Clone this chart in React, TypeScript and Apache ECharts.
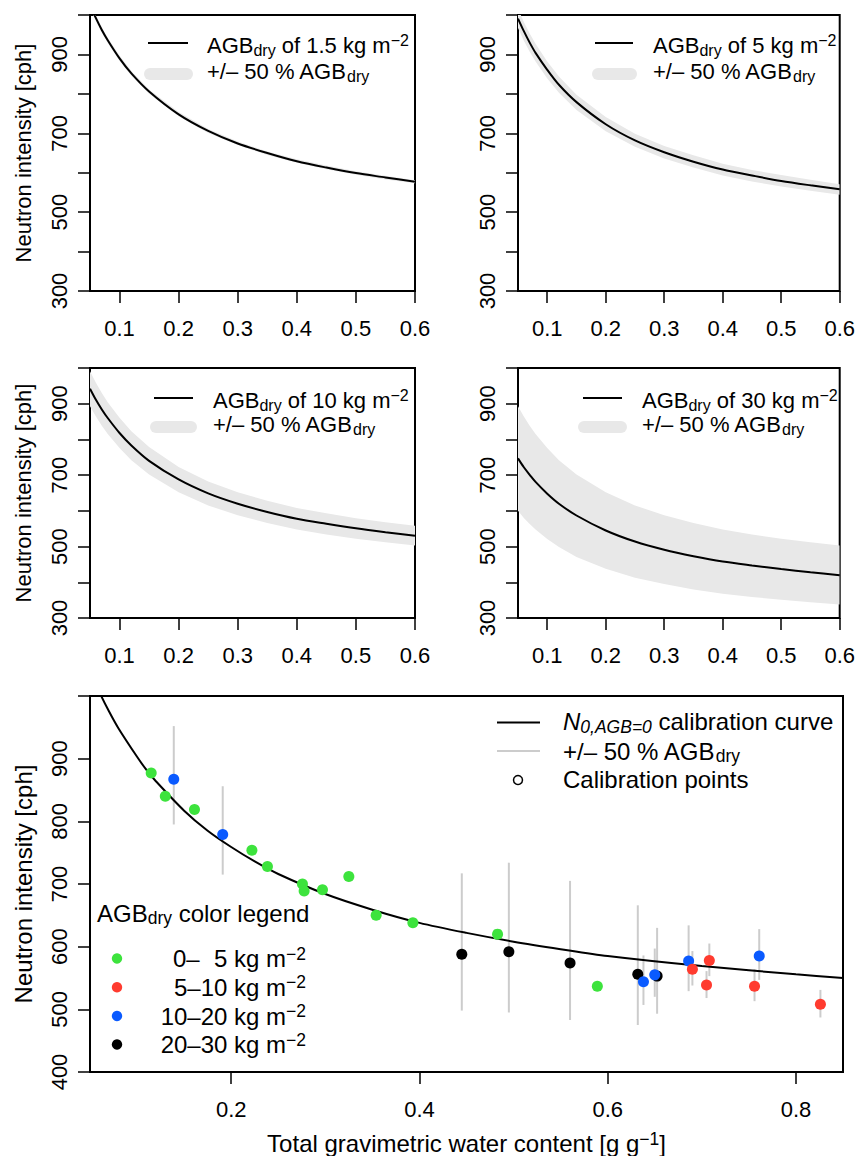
import React, { useEffect, useRef } from 'react';
import * as echarts from 'echarts';

const FONT = "'Liberation Sans', Arial, Helvetica, sans-serif";

// ---- top panels: water content grid and curves (cph) ----
const thetaTop = [0.05, 0.06, 0.07, 0.08, 0.1, 0.12, 0.15, 0.2, 0.25, 0.3, 0.35, 0.4, 0.45, 0.5, 0.55, 0.6];

const agb1_5 = [1025, 992, 962, 936, 890, 852, 806, 748, 706, 674, 650, 629, 613, 599, 588, 577];
const agb1_5Hi = [1033, 999, 969, 942, 897, 858, 811, 754, 711, 679, 654, 634, 618, 604, 592, 581];
const agb1_5Lo = [1018, 985, 955, 929, 884, 846, 800, 743, 701, 670, 645, 625, 609, 595, 583, 573];

const agb5 = [991, 959, 930, 904, 861, 823, 779, 723, 682, 652, 628, 608, 593, 579, 568, 558];
const agb5Hi = [1016, 982, 953, 927, 882, 844, 798, 741, 699, 668, 644, 623, 607, 594, 582, 571];
const agb5Lo = [967, 935, 907, 882, 839, 803, 759, 705, 666, 636, 613, 593, 578, 565, 554, 544];

const agb10 = [942, 911, 884, 860, 818, 783, 740, 688, 649, 620, 597, 578, 564, 551, 540, 530];
const agb10Hi = [991, 959, 930, 904, 861, 823, 779, 723, 682, 652, 628, 608, 593, 579, 568, 558];
const agb10Lo = [893, 864, 838, 815, 776, 742, 702, 652, 615, 588, 566, 548, 534, 522, 512, 503];

const agb30 = [747, 722, 701, 681, 648, 620, 587, 545, 514, 491, 473, 458, 447, 437, 428, 420];
const agb30Hi = [893, 864, 838, 815, 776, 742, 702, 652, 615, 588, 566, 548, 534, 522, 512, 503];
const agb30Lo = [600, 580, 563, 548, 521, 499, 471, 438, 413, 395, 380, 368, 359, 351, 344, 338];

const topLabels = ['1.5', '5', '10', '30'];

// ---- bottom panel ----
const thetaCal = [0.05, 0.06, 0.07, 0.08, 0.1, 0.11, 0.12, 0.15, 0.175, 0.2, 0.225, 0.25, 0.3, 0.35, 0.4, 0.45, 0.5, 0.55, 0.6, 0.7, 0.8, 0.85];
const calCurve = [1040, 1006, 976, 949, 903, 882, 864, 817, 785, 759, 736, 716, 684, 659, 638, 622, 608, 596, 585, 569, 556, 550];

const greenPts = [
  [0.115, 877], [0.130, 840], [0.161, 819], [0.222, 754], [0.2385, 728], [0.2757, 700],
  [0.2775, 689], [0.297, 691], [0.325, 712], [0.354, 650], [0.393, 638], [0.483, 620], [0.589, 537],
];
const redPts = [[0.690, 564], [0.705, 539], [0.708, 578], [0.756, 537], [0.826, 508]];
const bluePts = [[0.139, 867], [0.191, 779], [0.638, 544], [0.650, 555], [0.686, 577], [0.761, 585]];
const blackPts = [[0.445, 588], [0.495, 592], [0.560, 574], [0.632, 556], [0.6525, 553]];

// error bars: [theta, low, high]
const errBars = [
  [0.139, 795, 952], [0.191, 715, 856], [0.445, 498, 717], [0.495, 495, 734], [0.560, 483, 705],
  [0.632, 475, 666], [0.638, 507, 586], [0.650, 520, 597], [0.6525, 493, 630], [0.686, 529, 634],
  [0.690, 538, 593], [0.705, 518, 561], [0.708, 553, 605], [0.756, 513, 564], [0.761, 547, 628],
  [0.826, 487, 531],
];

const topXTicks = [0.1, 0.2, 0.3, 0.4, 0.5, 0.6];
const topYTicks = [300, 400, 500, 600, 700, 800, 900, 1000];
const topYLabels = [300, 500, 700, 900];
const botXTicks = [0.2, 0.4, 0.6, 0.8];
const botYTicks = [400, 500, 600, 700, 800, 900, 1000];
const botYLabels = [400, 500, 600, 700, 800, 900];

const GREEN = '#3de33d';
const RED = '#ff3b2f';
const BLUE = '#0a5aff';
const BLACK = '#000000';
const BAND = '#e8e8e8';
const BAR = '#cccccc';

// rich styles for the small panels (22px) and the large panel (24px)
const RICH: any = {
  a: { fontSize: 22, fontFamily: FONT, lineHeight: 26, verticalAlign: 'middle', fill: '#000' },
  s: { fontSize: 16, fontFamily: FONT, lineHeight: 17, verticalAlign: 'bottom', fill: '#000' },
  p: { fontSize: 16, fontFamily: FONT, lineHeight: 6, verticalAlign: 'top', fill: '#000' },
};
const RICHB: any = {
  a: { fontSize: 24, fontFamily: FONT, lineHeight: 28, verticalAlign: 'middle', fill: '#000' },
  s: { fontSize: 17.5, fontFamily: FONT, lineHeight: 18, verticalAlign: 'bottom', fill: '#000' },
  p: { fontSize: 17.5, fontFamily: FONT, lineHeight: 6.4, verticalAlign: 'top', fill: '#000' },
  i: { fontSize: 24, fontFamily: FONT, fontStyle: 'italic', lineHeight: 28, verticalAlign: 'middle', fill: '#000' },
  is: { fontSize: 17.5, fontFamily: FONT, fontStyle: 'italic', lineHeight: 18, verticalAlign: 'bottom', fill: '#000' },
};

function pairs(xs: number[], ys: number[]) {
  return xs.map((x, i) => [x, ys[i]]);
}

function xAx(gi: number, min: number, max: number, ticks: number[]) {
  return {
    type: 'value', gridIndex: gi, min, max,
    axisLine: { show: false, onZero: false },
    splitLine: { show: false },
    axisTick: { show: true, inside: false, length: 12, customValues: ticks, lineStyle: { color: '#000', width: 1.5 } },
    axisLabel: { customValues: ticks, fontSize: 22, fontFamily: FONT, color: '#000', margin: 26, showMinLabel: true, showMaxLabel: true },
  };
}
function yAx(gi: number, min: number, max: number, ticks: number[], labels: number[], name: string, nameSize: number, nameGap: number) {
  return {
    type: 'value', gridIndex: gi, min, max,
    axisLine: { show: false, onZero: false },
    splitLine: { show: false },
    axisTick: { show: true, inside: false, length: 12, customValues: ticks, lineStyle: { color: '#000', width: 1.5 } },
    axisLabel: { customValues: labels, rotate: 90, fontSize: 22, fontFamily: FONT, color: '#000', margin: 20, showMinLabel: true, showMaxLabel: true },
    name,
    nameLocation: 'middle',
    nameGap,
    nameRotate: 90,
    nameTextStyle: { fontSize: nameSize, fontFamily: FONT, color: '#000' },
  };
}

function txt(x: number, y: number, text: string, align: string = 'left', rich: any = RICH) {
  return {
    type: 'text', x, y, z: 100,
    style: { text, rich, align, textAlign: align, verticalAlign: 'middle', textVerticalAlign: 'middle', fontFamily: FONT, fontSize: 22 },
  };
}
function ln(x1: number, y1: number, x2: number, y2: number, color: string, width: number, cap: string = 'butt') {
  return { type: 'line', z: 100, shape: { x1, y1, x2, y2 }, style: { stroke: color, lineWidth: width, lineCap: cap } };
}
function dot(cx: number, cy: number, r: number, color: string) {
  return { type: 'circle', z: 100, shape: { cx, cy, r }, style: { fill: color } };
}

export default function App() {
  const ref = useRef<HTMLDivElement>(null);
  useEffect(() => {
    if (!ref.current) return;
    const chart = echarts.init(ref.current, undefined, { renderer: 'svg' });

    const grids = [
      { left: 90, top: 15, width: 325, height: 276 },
      { left: 518, top: 15, width: 325, height: 276 },
      { left: 90, top: 368, width: 325, height: 250 },
      { left: 518, top: 368, width: 325, height: 250 },
      { left: 90, top: 696, width: 753, height: 376 },
    ].map((g) => ({ ...g, show: true, borderColor: '#000', borderWidth: 2, backgroundColor: 'transparent', containLabel: false }));

    const xAxis = [0, 1, 2, 3].map((i) => xAx(i, 0.05, 0.6, topXTicks));
    xAxis.push(xAx(4, 0.05, 0.85, botXTicks));
    const yAxis = [0, 1, 2, 3].map((i) =>
      yAx(i, 300, 1000, topYTicks, topYLabels, i % 2 === 0 ? 'Neutron intensity [cph]' : '', 22, 56)
    );
    yAxis.push(yAx(4, 400, 1000, botYTicks, botYLabels, 'Neutron intensity [cph]', 24, 55));

    const curves = [
      [agb1_5, agb1_5Hi, agb1_5Lo],
      [agb5, agb5Hi, agb5Lo],
      [agb10, agb10Hi, agb10Lo],
      [agb30, agb30Hi, agb30Lo],
    ];

    const series: any[] = [];
    curves.forEach(([mid, hi, lo], i) => {
      series.push({
        type: 'custom', xAxisIndex: i, yAxisIndex: i, data: [[0.3, 600]], clip: true, z: 1, silent: true,
        renderItem: (params: any, api: any) => {
          const upper = thetaTop.map((x, k) => api.coord([x, hi[k]]));
          const lower = thetaTop.map((x, k) => api.coord([x, lo[k]])).reverse();
          const cs = params.coordSys;
          return {
            type: 'polygon',
            shape: { points: upper.concat(lower) },
            style: { fill: BAND, stroke: 'none' },
            clipPath: { type: 'rect', shape: { x: cs.x, y: cs.y, width: cs.width, height: cs.height } },
          };
        },
      });
      series.push({
        type: 'line', xAxisIndex: i, yAxisIndex: i, data: pairs(thetaTop, mid),
        smooth: 0.3, showSymbol: false, symbol: 'none', lineStyle: { color: '#000', width: 2 }, z: 3,
      });
    });

    series.push({
      type: 'custom', xAxisIndex: 4, yAxisIndex: 4, data: errBars, z: 1,
      encode: { x: 0, y: [1, 2] },
      renderItem: (params: any, api: any) => {
        const p1 = api.coord([api.value(0), api.value(1)]);
        const p2 = api.coord([api.value(0), api.value(2)]);
        return { type: 'line', shape: { x1: p1[0], y1: p1[1], x2: p2[0], y2: p2[1] }, style: { stroke: BAR, lineWidth: 2 } };
      },
    });
    series.push({
      type: 'line', xAxisIndex: 4, yAxisIndex: 4, data: pairs(thetaCal, calCurve),
      smooth: 0.3, showSymbol: false, symbol: 'none', lineStyle: { color: '#000', width: 2 }, z: 3,
    });
    [[greenPts, GREEN, 5], [blackPts, BLACK, 6], [bluePts, BLUE, 7], [redPts, RED, 8]].forEach(([pts, c, z]: any) => {
      series.push({
        type: 'scatter', xAxisIndex: 4, yAxisIndex: 4, data: pts, symbol: 'circle', symbolSize: 11,
        itemStyle: { color: c, opacity: 1 }, z,
      });
    });

    // legends (graphic)
    const g: any[] = [];
    const legPos = [
      { lx1: 148, lx2: 188, bx1: 150, bx2: 187, tx: 207, ly: 43, ty: 45, by: 74, ty2: 71 },
      { lx1: 595, lx2: 633, bx1: 598, bx2: 631, tx: 653, ly: 43, ty: 45, by: 74, ty2: 71 },
      { lx1: 154, lx2: 193, bx1: 156, bx2: 191, tx: 213, ly: 398, ty: 400, by: 427, ty2: 424 },
      { lx1: 583, lx2: 622, bx1: 584, bx2: 621, tx: 642, ly: 398, ty: 400, by: 427, ty2: 424 },
    ];
    legPos.forEach((p, i) => {
      g.push(ln(p.lx1, p.ly, p.lx2, p.ly, '#000', 2));
      g.push(txt(p.tx, p.ty, '{a|AGB}{s|dry}{a|\u00a0of ' + topLabels[i] + ' kg m}{p|\u22122}'));
      g.push(ln(p.bx1, p.by, p.bx2, p.by, BAND, 12, 'round'));
      g.push(txt(p.tx, p.ty2, '{a|+/\u2013 50 % AGB}{s|dry}'));
    });
    // bottom legend
    g.push(ln(497, 722.5, 540, 722.5, '#000', 2));
    g.push(txt(563, 721.5, '{i|N}{is|0,AGB=0}{a|\u00a0calibration curve}', 'left', RICHB));
    g.push(ln(497, 751, 540, 751, BAR, 2));
    g.push(txt(563, 751, '{a|+/\u2013 50 % AGB}{s|dry}', 'left', RICHB));
    g.push({ type: 'circle', z: 100, shape: { cx: 518, cy: 780, r: 4.5 }, style: { fill: 'none', stroke: '#000', lineWidth: 1.5 } });
    g.push(txt(563, 779.5, '{a|Calibration points}', 'left', RICHB));
    // color legend
    g.push(txt(97, 913, '{a|AGB}{s|dry}{a|\u00a0color legend}', 'left', RICHB));
    const rows = [
      ['5 kg m', GREEN, 958.5, '0\u2013'],
      ['5\u201310 kg m', RED, 987.3, ''],
      ['10\u201320 kg m', BLUE, 1016, ''],
      ['20\u201330 kg m', BLACK, 1044.5, ''],
    ];
    rows.forEach(([t, c, y, pre]: any) => {
      g.push(dot(117, y, 5.2, c));
      g.push(txt(306, y, '{a|' + t + '}{p|\u22122}', 'right', RICHB));
      if (pre) g.push(txt(173, y, '{a|' + pre + '}', 'left', RICHB));
    });
    // x axis title bottom
    g.push(txt(466.5, 1143.5, '{a|Total gravimetric water content [g g}{p|\u22121}{a|]}', 'center', RICHB));

    chart.setOption({
      animation: false,
      backgroundColor: '#ffffff',
      textStyle: { fontFamily: FONT },
      grid: grids,
      xAxis,
      yAxis,
      series,
      graphic: { elements: g },
    });
    return () => chart.dispose();
  }, []);
  return (
    <div
      ref={ref}
      style={{ position: 'absolute', left: 0, top: 0, width: 858, height: 1156, background: '#fff' }}
    />
  );
}
